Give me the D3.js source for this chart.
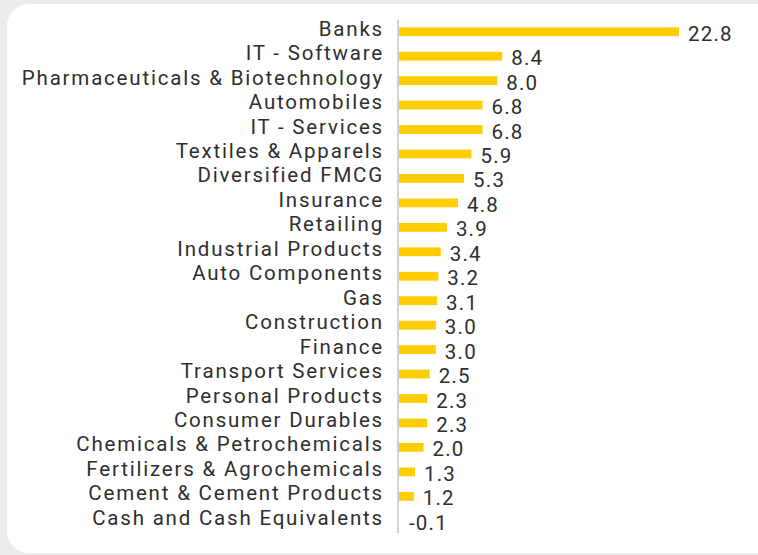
<!DOCTYPE html>
<html>
<head>
<meta charset="utf-8">
<script src="https://cdn.jsdelivr.net/npm/d3@7"></script>
<style>
  html, body { margin: 0; padding: 0; background: #ebebeb; }
  svg { display: block; }
</style>
</head>
<body>
<svg width="758" height="555"></svg>
<script>
const sectors = [
  'Banks', 'IT - Software', 'Pharmaceuticals & Biotechnology', 'Automobiles',
  'IT - Services', 'Textiles & Apparels', 'Diversified FMCG', 'Insurance',
  'Retailing', 'Industrial Products', 'Auto Components', 'Gas', 'Construction',
  'Finance', 'Transport Services', 'Personal Products', 'Consumer Durables',
  'Chemicals & Petrochemicals', 'Fertilizers & Agrochemicals',
  'Cement & Cement Products', 'Cash and Cash Equivalents'
];
const weights = [22.8, 8.4, 8.0, 6.8, 6.8, 5.9, 5.3, 4.8, 3.9, 3.4, 3.2, 3.1,
  3.0, 3.0, 2.5, 2.3, 2.3, 2.0, 1.3, 1.2, -0.1];

const data = sectors.map((s, i) => ({ sector: s, value: weights[i] }));

const svg = d3.select('svg');

// card
svg.append('rect')
    .attr('x', 7)
    .attr('y', 4)
    .attr('width', 772)
    .attr('height', 549)
    .attr('rx', 22)
    .style('fill', '#ffffff');

const x0 = 399;
const yScale = d3.scaleBand()
    .domain(sectors)
    .range([19.5, 533])
    .paddingInner(0.64)
    .paddingOuter(0.32);
const xScale = d3.scaleLinear()
    .domain([0, 22.8])
    .range([x0, 679]);

const font = 'Roboto, "DejaVu Sans", sans-serif';

svg.append('g')
    .selectAll('rect.bar')
    .data(data)
    .enter()
    .append('rect')
    .attr('class', 'bar')
    .attr('x', d => xScale(Math.min(0, d.value)))
    .attr('y', d => yScale(d.sector))
    .attr('width', d => Math.abs(xScale(d.value) - xScale(0)))
    .attr('height', yScale.bandwidth())
    .style('fill', '#ffcc00');

// axis line at zero
svg.append('line')
    .attr('x1', xScale(0) - 1)
    .attr('x2', xScale(0) - 1)
    .attr('y1', 20)
    .attr('y2', 533)
    .style('stroke', '#d2d2d2')
    .style('stroke-width', '2px');

svg.append('g')
    .selectAll('text.cat')
    .data(data)
    .enter()
    .append('text')
    .attr('class', 'cat')
    .attr('x', 384)
    .attr('y', d => yScale(d.sector) + yScale.bandwidth() / 2 + 4)
    .attr('text-anchor', 'end')
    .style('font-family', font)
    .style('font-size', '20.5px')
    .style('letter-spacing', '1.8px')
    .style('fill', '#2e2e2e')
    .text(d => d.sector);

svg.append('g')
    .selectAll('text.val')
    .data(data)
    .enter()
    .append('text')
    .attr('class', 'val')
    .attr('x', d => Math.max(xScale(d.value), xScale(0) + 1) + 9)
    .attr('y', d => yScale(d.sector) + yScale.bandwidth() / 2 + 9)
    .style('font-family', font)
    .style('font-size', '20.5px')
    .style('letter-spacing', '1.2px')
    .style('fill', '#2e2e2e')
    .text(d => d3.format('.1f')(d.value).replace('−', '-'));
</script>
</body>
</html>
